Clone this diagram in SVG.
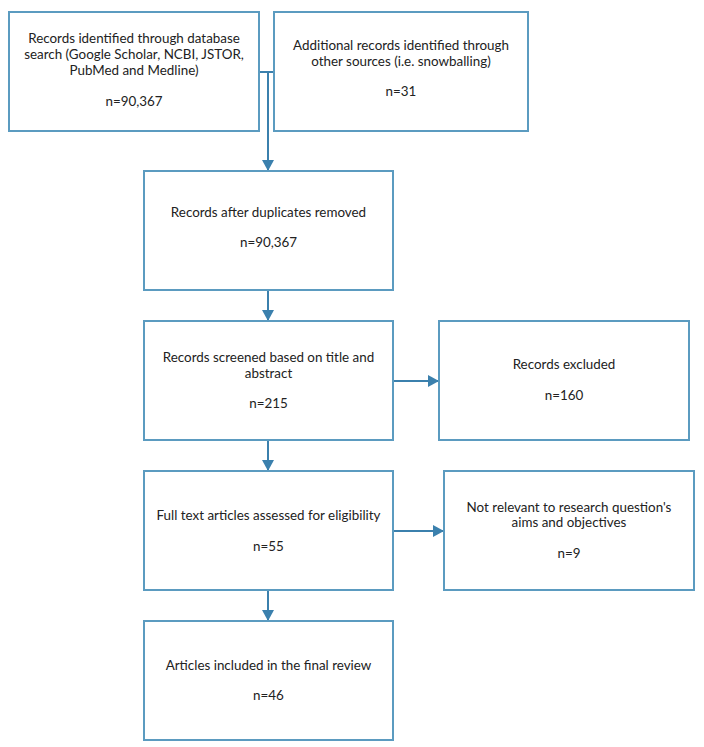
<svg xmlns="http://www.w3.org/2000/svg" width="704" height="747" viewBox="0 0 704 747">
<style>
.box{fill:#fff;stroke:#5b9bc0;stroke-width:2}
.t{font-family:Lato,"Liberation Sans",sans-serif;font-size:13.4px;fill:#222;text-anchor:middle}
.c{fill:none;stroke:#3b80ad;stroke-width:2}
</style>
<defs>
<marker id="ah" markerWidth="12" markerHeight="12" refX="10" refY="6" orient="auto" markerUnits="userSpaceOnUse">
<path d="M0,0 L11,6 L0,12 Z" fill="#3b80ad"/>
</marker>
</defs>
<rect width="704" height="747" fill="#fff"/>
<g id="connectors">
<path class="c" d="M259,72 H274"/>
<path class="c" d="M268,72 V170" marker-end="url(#ah)"/>
<path class="c" d="M268,290 V320" marker-end="url(#ah)"/>
<path class="c" d="M393,381 H438" marker-end="url(#ah)"/>
<path class="c" d="M268,440 V470" marker-end="url(#ah)"/>
<path class="c" d="M393,531 H443" marker-end="url(#ah)"/>
<path class="c" d="M268,590 V620" marker-end="url(#ah)"/>
</g>
<g id="n1"><rect class="box" x="9" y="12" width="250" height="119"/>
<text class="t" x="134" y="43">Records identified through database</text>
<text class="t" x="134" y="59">search (Google Scholar, NCBI, JSTOR,</text>
<text class="t" x="134" y="75">PubMed and Medline)</text>
<text class="t" x="134" y="106">n=90,367</text></g>
<g id="n2"><rect class="box" x="274" y="12" width="254" height="119"/>
<text class="t" x="401" y="50">Additional records identified through</text>
<text class="t" x="401" y="66">other sources (i.e. snowballing)</text>
<text class="t" x="401" y="96">n=31</text></g>
<g id="n3"><rect class="box" x="144" y="171" width="249" height="119"/>
<text class="t" x="268.5" y="217">Records after duplicates removed</text>
<text class="t" x="268.5" y="247">n=90,367</text></g>
<g id="n4"><rect class="box" x="144" y="321" width="249" height="119"/>
<text class="t" x="268.5" y="362">Records screened based on title and</text>
<text class="t" x="268.5" y="378">abstract</text>
<text class="t" x="268.5" y="408">n=215</text></g>
<g id="n5"><rect class="box" x="439" y="321" width="250" height="119"/>
<text class="t" x="564" y="369">Records excluded</text>
<text class="t" x="564" y="400">n=160</text></g>
<g id="n6"><rect class="box" x="144" y="471" width="249" height="119"/>
<text class="t" x="268.5" y="520">Full text articles assessed for eligibility</text>
<text class="t" x="268.5" y="551">n=55</text></g>
<g id="n7"><rect class="box" x="444" y="471" width="250" height="119"/>
<text class="t" x="569" y="512">Not relevant to research question's</text>
<text class="t" x="569" y="527">aims and objectives</text>
<text class="t" x="569" y="558">n=9</text></g>
<g id="n8"><rect class="box" x="144" y="621" width="249" height="119"/>
<text class="t" x="268.5" y="670">Articles included in the final review</text>
<text class="t" x="268.5" y="700">n=46</text></g>
</svg>
